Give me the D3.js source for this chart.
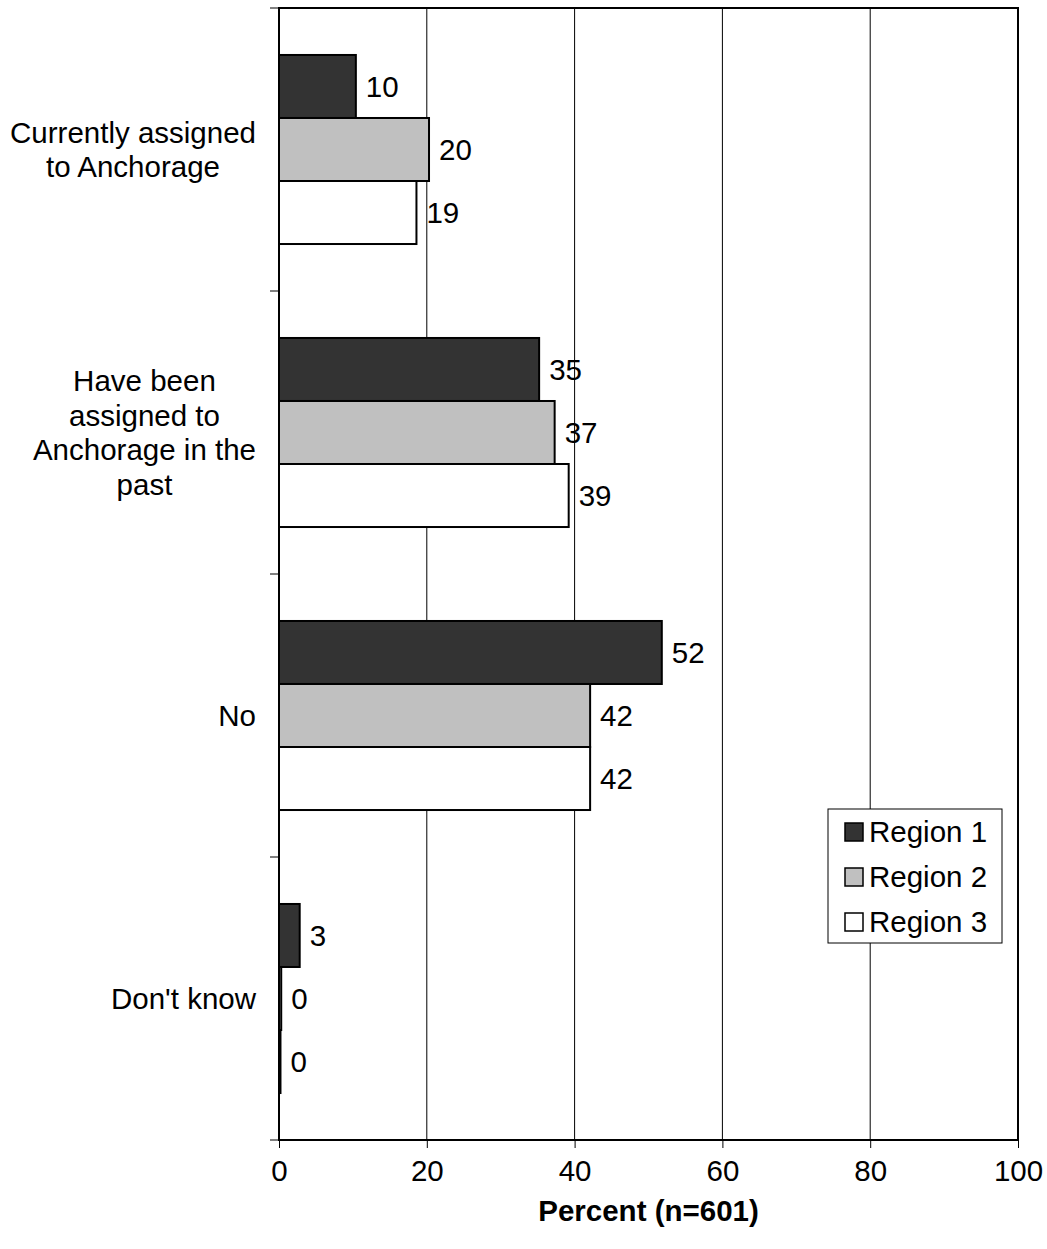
<!DOCTYPE html>
<html><head><meta charset="utf-8">
<script src="https://cdn.jsdelivr.net/npm/d3@7"></script>
<style>body{margin:0;background:#fff}text{font-family:"Liberation Sans",Arial,sans-serif}</style>
</head><body>
<svg id="c" width="1047" height="1249"></svg>
<script>
const categories = [
  ["Currently assigned","to Anchorage"],
  ["Have been","assigned to","Anchorage in the","past"],
  ["No"],
  ["Don't know"]
];
const series = ["Region 1","Region 2","Region 3"];
const region1 = [10.4, 35.2, 51.8, 2.8];
const region2 = [20.3, 37.3, 42.1, 0.3];
const region3 = [18.6, 39.2, 42.1, 0.2];
const xTicks = [0,20,40,60,80,100];
const xTitle = "Percent (n=601)";
const colors = ["#333333","#c0c0c0","#ffffff"];

const FS = 29.5;
const svg = d3.select("#c");
const L=279, R=1018, T=8, B=1140;
const x = d3.scaleLinear().domain([0,100]).range([L,R]);
const y = d3.scaleBand().domain(d3.range(categories.length)).range([T,B]).paddingInner(0).paddingOuter(0);
const bw = y.bandwidth();
const groupH = bw*0.668;
const inner = d3.scaleBand().domain(d3.range(series.length)).range([0,groupH]);
const vals = [region1, region2, region3];

// gridlines
svg.append("g").selectAll("line").data(xTicks.slice(1,-1)).join("line")
  .attr("x1",d=>x(d)).attr("x2",d=>x(d)).attr("y1",T).attr("y2",B)
  .attr("stroke","#000").attr("stroke-width",1);
// plot border
svg.append("rect").attr("x",L).attr("y",T).attr("width",R-L).attr("height",B-T)
  .attr("fill","none").attr("stroke","#000").attr("stroke-width",2);

// bars
const g = svg.append("g");
categories.forEach((c,i)=>{
  const y0 = y(i) + (bw-groupH)/2;
  vals.forEach((s,j)=>{
    const yy = y0 + inner(j);
    g.append("rect").attr("x",x(0)).attr("y",yy).attr("width",x(s[i])-x(0)).attr("height",inner.bandwidth())
      .attr("fill",colors[j]).attr("stroke","#000").attr("stroke-width",2);
    g.append("text").attr("x",x(s[i])+10).attr("y",yy+inner.bandwidth()/2).attr("dy","0.35em")
      .attr("font-size",FS).text(d3.format(".0f")(s[i]));
  });
});

// y axis ticks (category boundaries)
svg.append("g").selectAll("line").data(d3.range(categories.length+1)).join("line")
  .attr("x1",L-9).attr("x2",L).attr("y1",d=>T+d*bw).attr("y2",d=>T+d*bw)
  .attr("stroke","#000").attr("stroke-width",1);
// x axis
const xa = svg.append("g").attr("transform",`translate(0,${B})`)
  .call(d3.axisBottom(x).tickValues(xTicks).tickSize(8).tickPadding(12).tickFormat(d3.format("d")));
xa.select(".domain").remove();
xa.selectAll("line").attr("stroke","#000");
xa.selectAll("text").attr("font-size",FS).attr("font-family","Liberation Sans, Arial, sans-serif").attr("fill","#000");

// category labels
const lh = 34.5;
categories.forEach((lines,i)=>{
  const cy = y(i)+bw/2;
  const t = svg.append("g");
  const texts = lines.map((ln,k)=> t.append("text").attr("font-size",FS).attr("text-anchor","middle")
    .attr("y", cy + (k-(lines.length-1)/2)*lh).attr("dy","0.35em").text(ln));
  const maxW = d3.max(texts, tt=>tt.node().getComputedTextLength());
  texts.forEach(tt=>tt.attr("x", 256 - maxW/2));
});

// x title
svg.append("text").attr("x",(L+R)/2).attr("y",1211).attr("dy","0.35em").attr("text-anchor","middle")
  .attr("font-size",FS).attr("font-weight","bold").text(xTitle);

// legend
const lg = svg.append("g");
lg.append("rect").attr("x",828).attr("y",809).attr("width",174).attr("height",134)
  .attr("fill","#fff").attr("stroke","#000").attr("stroke-width",1);
series.forEach((s,j)=>{
  const cy = 832 + j*45;
  lg.append("rect").attr("x",845).attr("y",cy-9).attr("width",18).attr("height",18)
    .attr("fill",colors[j]).attr("stroke","#000").attr("stroke-width",1.5);
  lg.append("text").attr("x",869).attr("y",cy).attr("dy","0.35em").attr("font-size",FS).text(s);
});
</script>
</body></html>
